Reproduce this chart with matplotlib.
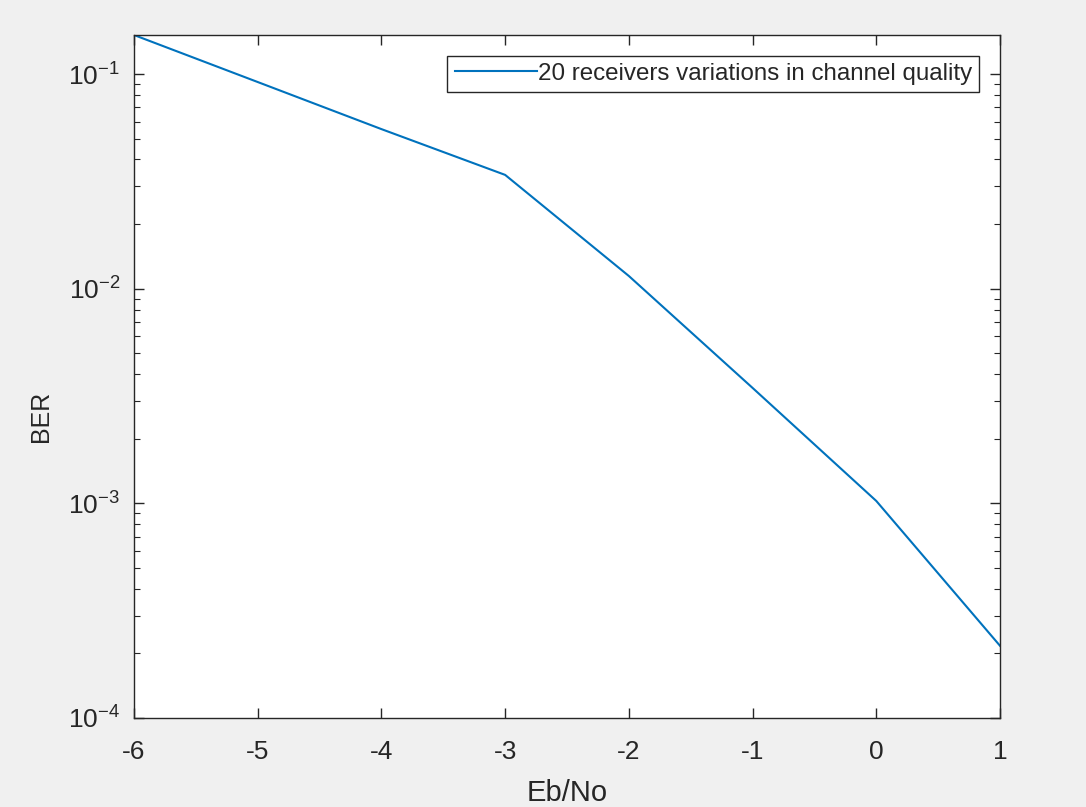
import numpy as np
import matplotlib
matplotlib.use("Agg")
import matplotlib.pyplot as plt
from matplotlib.ticker import LogLocator, NullFormatter

# values
ebno = [-6, -5, -4, -3, -2, -1, 0, 1]
ber = [0.152, 0.0918, 0.0554, 0.0339, 0.01146, 0.00345, 0.001026, 0.000217]
series_label = "20 receivers variations in channel quality"
x_ticks = [-6, -5, -4, -3, -2, -1, 0, 1]
y_ticks = [1e-4, 1e-3, 1e-2, 1e-1]

plt.rcParams['font.family'] = ['Liberation Sans', 'DejaVu Sans']
plt.rcParams['mathtext.fontset'] = 'custom'
plt.rcParams['mathtext.rm'] = 'Liberation Sans'
plt.rcParams['mathtext.it'] = 'Liberation Sans:italic'
plt.rcParams['axes.unicode_minus'] = False

fig = plt.figure(figsize=(10.86, 8.07), dpi=100, facecolor='#f0f0f0')
ax = fig.add_axes([0.1234, 0.1103, 0.7974, 0.8463])
ax.set_facecolor('white')

ax.semilogy(ebno, ber, color='#0072BD', lw=1.5, label=series_label)

ax.set_xlim(-6, 1)
ax.set_ylim(1e-4, 0.152)
ax.set_xticks(x_ticks)
ax.set_yticks(y_ticks)
ax.yaxis.set_minor_locator(LogLocator(base=10, subs=np.arange(2, 10), numticks=20))
ax.yaxis.set_minor_formatter(NullFormatter())

tc = '#262626'
for s in ax.spines.values():
    s.set_color(tc)
    s.set_linewidth(1.0)
ax.tick_params(which='both', direction='in', top=True, right=True, colors=tc,
               labelsize=19, labelcolor=tc)
ax.tick_params(which='major', length=7, width=1.0)
ax.tick_params(which='minor', length=4, width=0.8)
ax.tick_params(axis='x', which='major', pad=16)
ax.tick_params(axis='y', which='major', pad=10)

ax.set_xlabel('Eb/No', fontsize=21, color=tc, labelpad=11)
ax.set_ylabel('BER', fontsize=18, color=tc)
ax.yaxis.set_label_coords(-0.093, 0.442)

leg = ax.legend(loc='upper right', fontsize=17.4, fancybox=False, framealpha=1,
                edgecolor=tc, handlelength=3.4, handletextpad=0.05,
                borderaxespad=0.85, borderpad=0.3)
leg.get_frame().set_linewidth(1.0)
for t in leg.get_texts():
    t.set_color(tc)

fig.savefig('out.png', dpi=100, facecolor=fig.get_facecolor())
